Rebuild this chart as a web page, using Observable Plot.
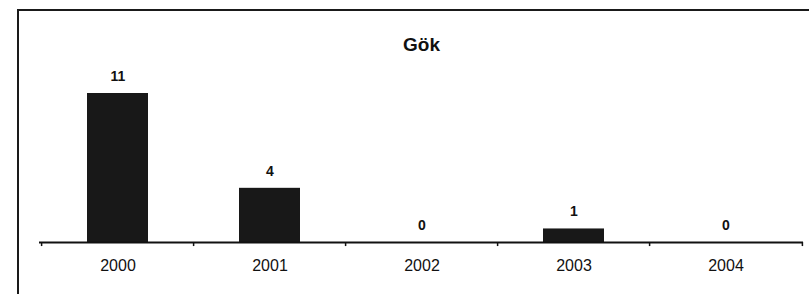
<!DOCTYPE html>
<html><head><meta charset="utf-8">
<script src="https://cdn.jsdelivr.net/npm/d3@7"></script>
<script src="https://cdn.jsdelivr.net/npm/@observablehq/plot@0.6"></script>
<style>
body{margin:0;background:#fff;}
#wrap{position:relative;width:809px;height:294px;overflow:hidden;}
#frame{position:absolute;left:17px;top:9px;width:900px;height:400px;border-top:2px solid #1a1a1a;border-left:2px solid #1a1a1a;}
#chart{position:absolute;left:0;top:0;}
</style></head><body><div id="wrap"><div id="frame"></div><div id="chart"></div></div>
<script>
const title = "Gök";
const years = ["2000", "2001", "2002", "2003", "2004"];
const counts = [11, 4, 0, 1, 0];
const data = years.map((year, i) => ({year, count: counts[i]}));

const chart = Plot.plot({
  width: 809,
  height: 294,
  marginTop: 93,
  marginBottom: 52,
  marginLeft: 39,
  marginRight: 6,
  style: {fontFamily: "Liberation Sans, Arial, sans-serif", background: "transparent", color: "#111"},
  x: {domain: years, paddingInner: 0.6, paddingOuter: 0.3, axis: null},
  y: {domain: [0, 11], axis: null},
  marks: [
    Plot.barY(data, {x: "year", y: "count", fill: "#181818"}),
    Plot.ruleY([0], {stroke: "#111", strokeWidth: 1.8}),
    Plot.ruleX(years, {x: d => d, y1: 0, y2: -0.3, dx: -76.4, stroke: "#111", strokeWidth: 1.5}),
    Plot.ruleX([years[years.length - 1]], {x: d => d, y1: 0, y2: -0.3, dx: 76.4, stroke: "#111", strokeWidth: 1.5}),
    Plot.text(data, {x: "year", y: "count", text: d => String(d.count), dy: -17, fontSize: 14, fontWeight: "bold", fill: "#111"}),
    Plot.text(data, {x: "year", y: 0, text: "year", dy: 23, fontSize: 16, fill: "#111"}),
    Plot.text([title], {frameAnchor: "top", text: d => d, dy: -56, fontSize: 19, fontWeight: "bold", fill: "#111"})
  ]
});
document.getElementById("chart").appendChild(chart);
</script>
</body></html>
